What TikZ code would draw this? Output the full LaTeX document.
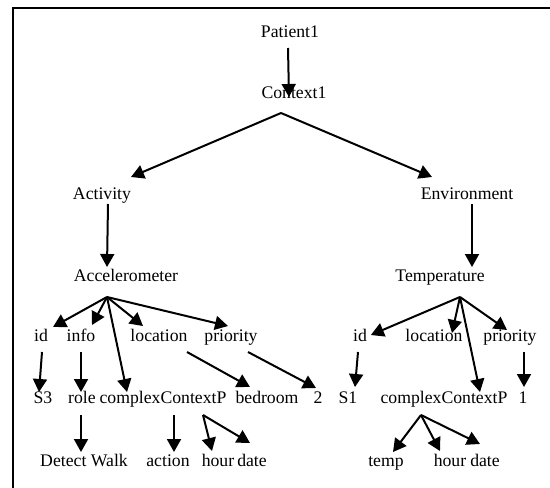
\documentclass[tikz,border=0pt]{standalone}
\usepackage{fontspec}
\setmainfont{Liberation Serif}
\usetikzlibrary{arrows.meta}

\tikzset{
  lbl/.style={font=\fontsize{17.7}{20}\selectfont, inner sep=0pt, outer sep=0pt,
    anchor=base, text height=12pt, text depth=4pt},
  arr/.style={-{Triangle[length=13pt,width=14pt]}, line width=2pt}
}

\begin{document}
\begin{tikzpicture}[x=1pt, y=-1pt, nodes={lbl}]
        \useasboundingbox (0,0) rectangle (550,488);
        \draw[line width=2pt] (13,490) |- (552,8);

        % Level 0
        \node (pat) at (290,37) {Patient1};
        \node (ctx) at (294,98) {Context1};

        % Level 1
        \node (act) at (102,199) {Activity};
        \node (env) at (467,199) {Environment};

        % Level 2
        \node (acc) at (126,281) {Accelerometer};
        \node (tmp) at (440,281) {Temperature};

        % Level 3
        \node (aid) at (41,341) {id};
        \node (ainfo) at (81,341) {info};
        \node (aloc) at (159,341) {location};
        \node (aprio) at (231,341) {priority};
        \node (tid) at (360,341) {id};
        \node (tloc) at (434,341) {location};
        \node (tprio) at (510,341) {priority};

        % Level 4
        \node (as3) at (43,403) {S3};
        \node (arole) at (82,403) {role};
        \node (acpx) at (163,403) {complexContextP};
        \node (abed) at (267,403) {bedroom};
        \node (atwo) at (318,403) {2};
        \node (ts1) at (348,403) {S1};
        \node (tcpx) at (444,403) {complexContextP};
        \node (tone) at (523,403) {1};

        % Level 5
        \node (adet) at (84,466) {Detect Walk};
        \node (aact) at (168,466) {action};
        \node (ahour) at (218,466) {hour};
        \node (adate) at (252,466) {date};
        \node (ttemp) at (386,466) {temp};
        \node (thour) at (450,466) {hour};
        \node (tdate) at (485,466) {date};

        % Fan points
        \coordinate (ctxfan) at (281,113);
        \coordinate (accfan) at (107,297);
        \coordinate (tmpfan) at (460,297);
        \coordinate (acpxfan) at (203,415);
        \coordinate (tcpxfan) at (421,415);

        % Connections
        \draw[arr] ([shift={(-2pt,-7pt)}]pat.south) -- ([shift={(-5pt,-11pt)}]ctx.north);

        \draw[arr] (ctxfan) -- ([shift={(29pt,10pt)}]act.north);
        \draw[arr] (ctxfan) -- ([shift={(-35pt,10pt)}]env.north);

        \draw[arr] ([shift={(6pt,-1pt)}]act.south) -- ([shift={(-19pt,2pt)}]acc.north);
        \draw[arr] ([shift={(5pt,-1pt)}]env.south) -- ([shift={(32pt,2pt)}]tmp.north);

        \draw[arr] (accfan) -- ([shift={(12pt,2pt)}]aid.north);
        \draw[arr] (accfan) -- ([shift={(11pt,4pt)}]ainfo.north);
        \draw[arr] (accfan) -- ([shift={(-36pt,-1pt)}]acpx.north);
        \draw[arr] (accfan) -- ([shift={(-16pt,3pt)}]aloc.north);
        \draw[arr] (accfan) -- ([shift={(-3pt,3pt)}]aprio.north);

        \draw[arr] (tmpfan) -- ([shift={(4pt,2pt)}]tid.east);
        \draw[arr] (tmpfan) -- ([shift={(18pt,-4pt)}]tloc.north);
        \draw[arr] (tmpfan) -- ([shift={(36pt,-1pt)}]tcpx.north);
        \draw[arr] (tmpfan) -- ([shift={(-3pt,-1pt)}]tprio.north);

        \draw[arr] ([shift={(1pt,-7pt)}]aid.south) -- ([shift={(-4pt,-1pt)}]as3.north);
        \draw[arr] ([shift={(0pt,-7pt)}]ainfo.south) -- ([shift={(-1pt,-1pt)}]arole.north);
        \draw[arr] ([shift={(28pt,-7pt)}]aloc.south) -- ([shift={(-17pt,4pt)}]abed.north);
        \draw[arr] ([shift={(17pt,-7pt)}]aprio.south) -- ([shift={(-2pt,3pt)}]atwo.north);
        \draw[arr] ([shift={(-2pt,-7pt)}]tid.south) -- ([shift={(7pt,4pt)}]ts1.north);
        \draw[arr] ([shift={(14pt,-7pt)}]tprio.south) -- ([shift={(1pt,4pt)}]tone.north);

        \draw[arr] ([shift={(-1pt,-8pt)}]arole.south) -- ([shift={(-3pt,2pt)}]adet.north);
        \draw[arr] ([shift={(11pt,-8pt)}]acpx.south) -- ([shift={(6pt,2pt)}]aact.north);
        \draw[arr] (acpxfan) -- ([shift={(-6pt,3pt)}]ahour.north);
        \draw[arr] (acpxfan) -- ([shift={(-2pt,11pt)}]adate.north);

        \draw[arr] (tcpxfan) -- ([shift={(7pt,2pt)}]ttemp.north);
        \draw[arr] (tcpxfan) -- ([shift={(-10pt,3pt)}]thour.north);
        \draw[arr] (tcpxfan) -- ([shift={(-5pt,10pt)}]tdate.north);

        \end{tikzpicture}
\end{document}
